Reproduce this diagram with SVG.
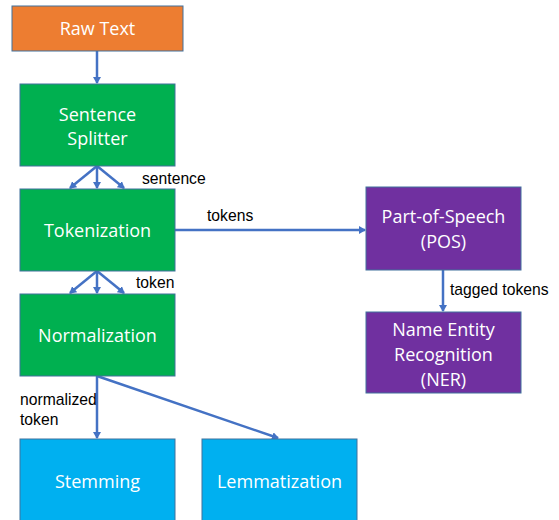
<svg xmlns="http://www.w3.org/2000/svg" width="559" height="520" viewBox="0 0 559 520">
<style>
.box{stroke:#41719C;stroke-width:1}
.nt{font-family:"Open Sans","Noto Sans",sans-serif;font-size:18px;fill:#fff;text-anchor:middle}
.lb{font-family:"Liberation Sans",Arial,sans-serif;font-size:15.7px;fill:#000}
.cn{stroke:#4472C4;stroke-width:2.5;fill:none;marker-end:url(#ah)}
</style>
<defs>
<marker id="ah" markerWidth="8" markerHeight="8" refX="6" refY="4" orient="auto" markerUnits="userSpaceOnUse" viewBox="0 0 8 8">
<path d="M0,0 L7,4 L0,8 z" fill="#4472C4"/>
</marker>
</defs>
<rect width="559" height="520" fill="#fff"/>
<g id="connectors">
<line class="cn" x1="97" y1="51" x2="97" y2="83"/>
<line class="cn" x1="97" y1="166" x2="70" y2="188"/>
<line class="cn" x1="97" y1="166" x2="97" y2="188"/>
<line class="cn" x1="97" y1="166" x2="124" y2="188"/>
<line class="cn" x1="97" y1="271" x2="70" y2="293"/>
<line class="cn" x1="97" y1="271" x2="97" y2="293"/>
<line class="cn" x1="97" y1="271" x2="124" y2="293"/>
<line class="cn" x1="175" y1="230" x2="365" y2="230"/>
<line class="cn" x1="443" y1="270" x2="443" y2="311"/>
<line class="cn" x1="97" y1="376" x2="97" y2="438"/>
<line class="cn" x1="97" y1="376" x2="278" y2="438"/>
<text class="lb" x="142" y="184">sentence</text>
<text class="lb" x="207" y="221">tokens</text>
<text class="lb" x="136" y="288">token</text>
<text class="lb" x="450" y="295">tagged tokens</text>
<text class="lb" x="20" y="405">normalized</text>
<text class="lb" x="20" y="425">token</text>
</g>
<g id="raw-text">
<rect class="box" x="12" y="6" width="171" height="45" fill="#ED7D31"/>
<text class="nt" x="97.5" y="35">Raw Text</text>
</g>
<g id="sentence-splitter">
<rect class="box" x="20" y="84" width="155" height="82" fill="#00B050"/>
<text class="nt" x="97.5" y="121">Sentence</text>
<text class="nt" x="97.5" y="145">Splitter</text>
</g>
<g id="tokenization">
<rect class="box" x="20" y="189" width="155" height="82" fill="#00B050"/>
<text class="nt" x="97.5" y="237">Tokenization</text>
</g>
<g id="normalization">
<rect class="box" x="20" y="294" width="155" height="82" fill="#00B050"/>
<text class="nt" x="97.5" y="342">Normalization</text>
</g>
<g id="stemming">
<rect class="box" x="20" y="439" width="155" height="90" fill="#00B0F0"/>
<text class="nt" x="97.5" y="488">Stemming</text>
</g>
<g id="lemmatization">
<rect class="box" x="202" y="439" width="155" height="90" fill="#00B0F0"/>
<text class="nt" x="279.5" y="488">Lemmatization</text>
</g>
<g id="pos">
<rect class="box" x="366" y="187" width="155" height="83" fill="#7030A0"/>
<text class="nt" x="443.5" y="223">Part-of-Speech</text>
<text class="nt" x="443.5" y="248">(POS)</text>
</g>
<g id="ner">
<rect class="box" x="366" y="312" width="155" height="81" fill="#7030A0"/>
<text class="nt" x="443.5" y="336">Name Entity</text>
<text class="nt" x="443.5" y="361">Recognition</text>
<text class="nt" x="443.5" y="386">(NER)</text>
</g>
</svg>
